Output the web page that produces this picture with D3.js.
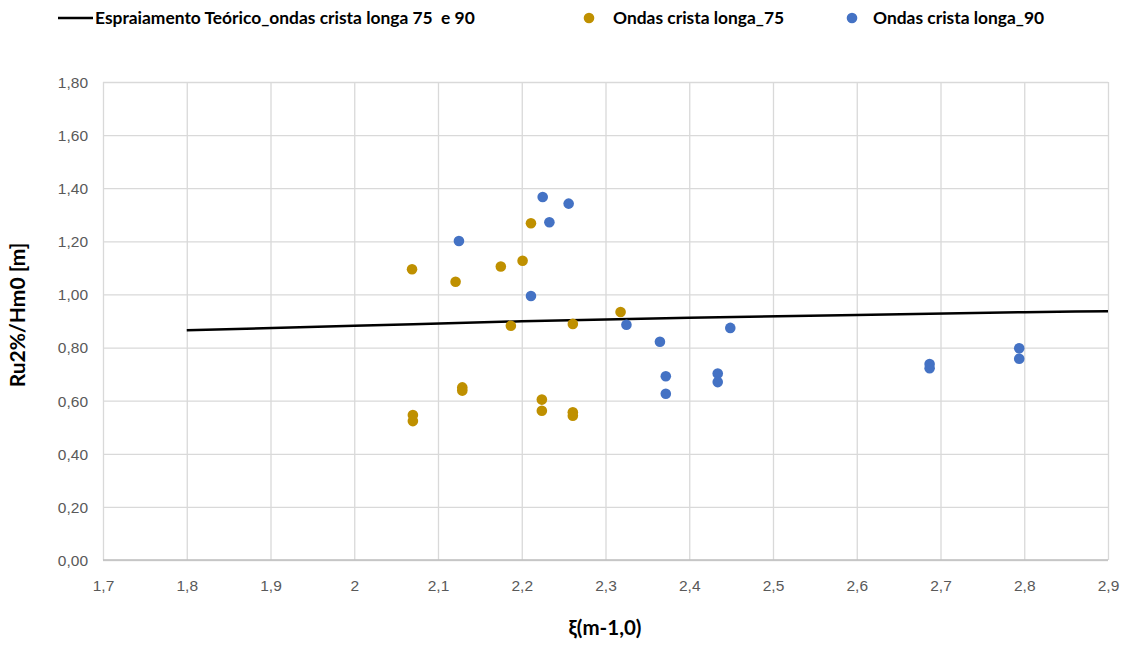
<!DOCTYPE html>
<html>
<head>
<meta charset="utf-8">
<script src="https://cdn.jsdelivr.net/npm/d3@7"></script>
<style>
  body { margin: 0; background: #fff; }
  svg { font-family: Lato, "Open Sans", sans-serif; }
</style>
</head>
<body>
<div id="chart"></div>
<script>
// data
var theoryX = [1.8, 2.0, 2.2, 2.4, 2.6, 2.8, 2.9];
var theoryY = [0.865, 0.882, 0.899, 0.912, 0.923, 0.933, 0.937];

var x75 = [2.069, 2.121, 2.175, 2.201, 2.211, 2.187, 2.261, 2.318, 2.070, 2.070, 2.129, 2.129, 2.224, 2.224, 2.261, 2.261];
var y75 = [1.095, 1.048, 1.105, 1.127, 1.268, 0.882, 0.889, 0.934, 0.546, 0.523, 0.650, 0.638, 0.604, 0.562, 0.556, 0.543];

var x90 = [2.225, 2.256, 2.233, 2.125, 2.211, 2.325, 2.365, 2.372, 2.372, 2.449, 2.434, 2.434, 2.687, 2.687, 2.794, 2.794];
var y90 = [1.367, 1.342, 1.272, 1.201, 0.994, 0.886, 0.822, 0.692, 0.626, 0.874, 0.702, 0.670, 0.738, 0.722, 0.797, 0.758];

var xTicks = [1.7, 1.8, 1.9, 2.0, 2.1, 2.2, 2.3, 2.4, 2.5, 2.6, 2.7, 2.8, 2.9];
var yTicks = [0, 0.2, 0.4, 0.6, 0.8, 1.0, 1.2, 1.4, 1.6, 1.8];

var width = 1128, height = 645;
var margin = {left: 103, right: 20, top: 82, bottom: 85};

var svg = d3.select("#chart").append("svg")
    .attr("width", width)
    .attr("height", height);

var x = d3.scaleLinear().domain([1.7, 2.9]).range([margin.left, 1108]);
var y = d3.scaleLinear().domain([0, 1.8]).range([560, margin.top]);

var comma = function(v, digits) { return v.toFixed(digits).replace(".", ","); };

// grid
svg.append("g")
  .attr("transform", "translate(0,560)")
  .call(d3.axisBottom(x).tickValues(xTicks).tickSize(-(560 - margin.top))
        .tickFormat(function(d) { return d == 2 ? "2" : comma(d, 1); }))
  .call(function(g) {
    g.select(".domain").remove();
    g.selectAll("line").attr("stroke", "#d9d9d9").attr("stroke-width", 1.3);
    g.selectAll("text").attr("fill", "#595959").attr("font-size", 15.5)
      .attr("dy", 0).attr("y", 31);
  });

svg.append("g")
  .attr("transform", "translate(" + margin.left + ",0)")
  .call(d3.axisLeft(y).tickValues(yTicks).tickSize(-(1108 - margin.left))
        .tickFormat(function(d) { return comma(d, 2); }))
  .call(function(g) {
    g.select(".domain").remove();
    g.selectAll("line").attr("stroke", "#d9d9d9").attr("stroke-width", 1.3);
    g.selectAll("text").attr("fill", "#595959").attr("font-size", 15.5)
      .attr("x", -15).attr("dy", "0.35em");
  });

// bottom axis line
svg.append("line")
  .attr("x1", x(1.7)).attr("x2", x(2.9))
  .attr("y1", y(0)).attr("y2", y(0))
  .attr("stroke", "#bfbfbf").attr("stroke-width", 1.3);

// theory line
var line = d3.line()
  .x(function(d, i) { return x(theoryX[i]); })
  .y(function(d) { return y(d); })
  .curve(d3.curveMonotoneX);

svg.append("path")
  .attr("d", line(theoryY))
  .attr("fill", "none")
  .attr("stroke", "#000")
  .attr("stroke-width", 2.5);

function dots(xs, ys, color) {
  svg.append("g").selectAll("circle")
    .data(ys)
    .enter().append("circle")
    .attr("cx", function(d, i) { return x(xs[i]); })
    .attr("cy", function(d) { return y(d); })
    .attr("r", 5.3)
    .attr("fill", color);
}
dots(x75, y75, "#bf9000");
dots(x90, y90, "#4472c4");

// axis titles
svg.append("text")
  .attr("x", 605).attr("y", 635)
  .attr("text-anchor", "middle")
  .attr("font-size", 20.5).attr("font-weight", "bold")
  .attr("fill", "#000")
  .text("ξ(m-1,0)");

svg.append("text")
  .attr("transform", "translate(25,315) rotate(-90)")
  .attr("text-anchor", "middle")
  .attr("font-size", 21).attr("font-weight", "bold")
  .attr("fill", "#000")
  .text("Ru2%/Hm0 [m]");

// legend
var leg = svg.append("g").attr("font-size", 17.4).attr("fill", "#000");
leg.append("line")
  .attr("x1", 58).attr("x2", 93).attr("y1", 18).attr("y2", 18)
  .attr("stroke", "#000").attr("stroke-width", 2.5);
leg.append("text").attr("x", 95).attr("y", 24)
  .attr("font-weight", "bold")
  .text("Espraiamento Teórico_ondas crista longa 75  e 90")
  .style("white-space", "pre");
leg.append("circle").attr("cx", 589).attr("cy", 18).attr("r", 5.3).attr("fill", "#bf9000");
leg.append("text").attr("x", 613).attr("y", 24).attr("font-weight", "bold")
  .text("Ondas crista longa_75");
leg.append("circle").attr("cx", 852).attr("cy", 18).attr("r", 5.3).attr("fill", "#4472c4");
leg.append("text").attr("x", 873).attr("y", 24).attr("font-weight", "bold")
  .text("Ondas crista longa_90");
</script>
</body>
</html>
